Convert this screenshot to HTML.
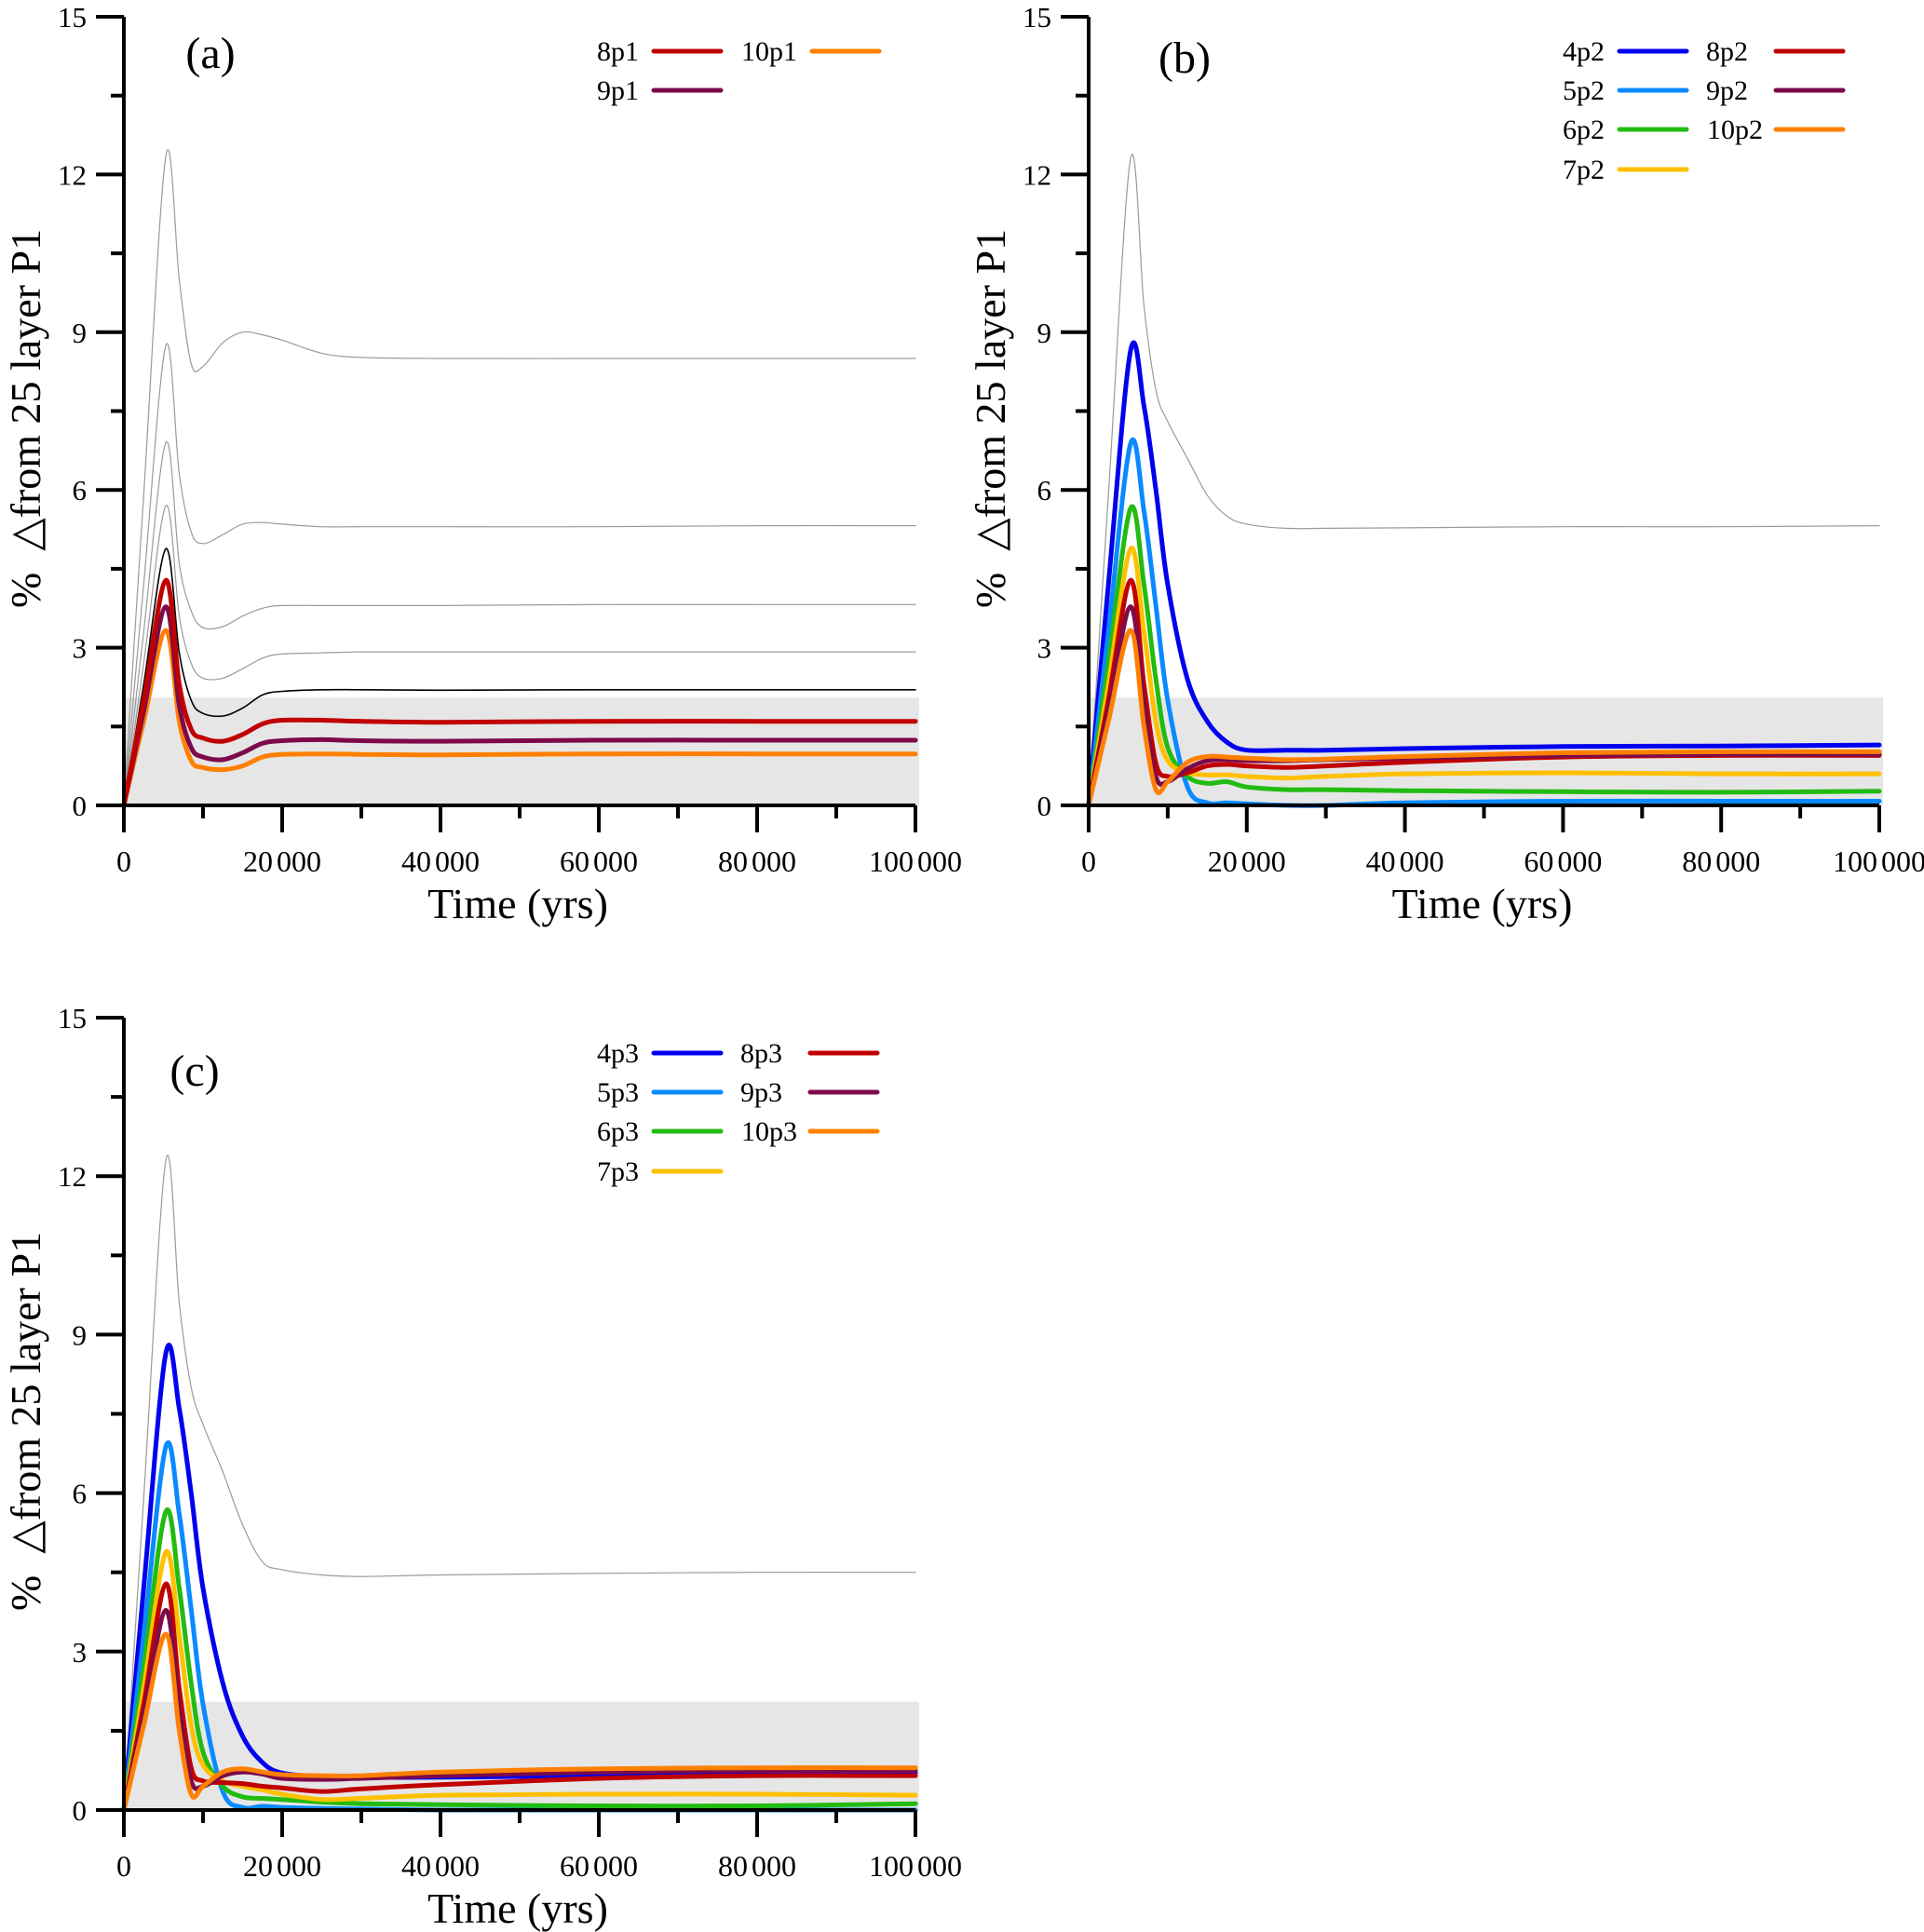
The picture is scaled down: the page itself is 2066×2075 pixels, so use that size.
<!DOCTYPE html>
<html><head><meta charset="utf-8">
<style>
html,body{margin:0;padding:0;background:#fff;}
svg{display:block;}
svg text{font-family:"Liberation Serif","DejaVu Serif",serif;white-space:pre;}
</style></head>
<body>
<svg id="fig" width="2066" height="2075" viewBox="0 0 2066 2075" xmlns="http://www.w3.org/2000/svg"></svg>
<script>
// ---- data ----
const timesA = [0, 2500, 5300, 7000, 8500, 10000, 12500, 15000, 17500, 20000, 25000, 30000, 40000, 60000, 80000, 100000];
const yTicks = [0, 3, 6, 9, 12, 15];
const xTicks = [0, 20000, 40000, 60000, 80000, 100000];
const xTickLabels = ["0", "20 000", "40 000", "60 000", "80 000", "100 000"];
const bandTop = 2.05;

const a_grey1 = [0, 5.9, 12.35, 10.0, 8.4, 8.35, 8.8, 9.0, 8.95, 8.85, 8.6, 8.52, 8.5, 8.5, 8.5, 8.5];
const a_grey2 = [0, 4.2, 8.75, 6.3, 5.2, 4.98, 5.15, 5.35, 5.38, 5.35, 5.3, 5.3, 5.3, 5.3, 5.32, 5.32];
const a_grey3 = [0, 3.3, 6.9, 4.6, 3.7, 3.38, 3.4, 3.6, 3.75, 3.8, 3.8, 3.8, 3.8, 3.82, 3.82, 3.82];
const a_grey4 = [0, 2.7, 5.7, 3.6, 2.7, 2.42, 2.42, 2.6, 2.8, 2.88, 2.9, 2.92, 2.92, 2.92, 2.92, 2.92];
const a_black = [0, 2.3, 4.88, 2.9, 2.0, 1.75, 1.7, 1.85, 2.1, 2.17, 2.2, 2.2, 2.19, 2.2, 2.2, 2.2];
const a_8p1 = [0, 2.0, 4.28, 2.3, 1.45, 1.28, 1.22, 1.35, 1.55, 1.62, 1.62, 1.6, 1.58, 1.6, 1.6, 1.6];
const a_9p1 = [0, 1.8, 3.78, 1.9, 1.1, 0.92, 0.87, 1.0, 1.18, 1.23, 1.25, 1.23, 1.22, 1.24, 1.24, 1.24];
const a_10p1 = [0, 1.6, 3.33, 1.6, 0.85, 0.72, 0.68, 0.75, 0.92, 0.97, 0.98, 0.97, 0.96, 0.98, 0.98, 0.98];

const b_grey = [0, 5.9, 12.3, 9.5, 7.9, 7.3, 6.6, 5.9, 5.5, 5.35, 5.27, 5.27, 5.28, 5.3, 5.3, 5.32];
const b_4p2 = [0, 4.2, 8.65, 7.6, 6.0, 4.2, 2.4, 1.6, 1.2, 1.05, 1.05, 1.05, 1.08, 1.12, 1.13, 1.15];
const b_5p2 = [0, 3.3, 6.88, 5.6, 3.8, 2.0, 0.35, 0.05, 0.05, 0.03, 0.0, 0.0, 0.05, 0.08, 0.08, 0.08];
const b_6p2 = [0, 2.7, 5.65, 4.2, 2.4, 1.1, 0.55, 0.42, 0.45, 0.35, 0.3, 0.3, 0.28, 0.26, 0.25, 0.27];
const b_7p2 = [0, 2.3, 4.88, 3.3, 1.6, 0.85, 0.62, 0.58, 0.58, 0.55, 0.52, 0.55, 0.6, 0.62, 0.6, 0.6];
const b_8p2 = [0, 2.0, 4.28, 2.3, 0.8, 0.55, 0.62, 0.75, 0.78, 0.75, 0.72, 0.75, 0.82, 0.92, 0.95, 0.95];
const b_9p2 = [0, 1.8, 3.78, 1.9, 0.55, 0.45, 0.7, 0.85, 0.87, 0.85, 0.85, 0.87, 0.9, 0.95, 0.97, 0.97];
const b_10p2 = [0, 1.6, 3.33, 1.5, 0.3, 0.45, 0.82, 0.93, 0.92, 0.9, 0.87, 0.88, 0.93, 1.0, 1.02, 1.02];

const c_grey = [0, 5.9, 12.3, 9.6, 8.0, 7.3, 6.4, 5.4, 4.7, 4.55, 4.45, 4.42, 4.45, 4.48, 4.5, 4.5];
const c_4p3 = [0, 4.2, 8.65, 7.6, 6.0, 4.2, 2.4, 1.4, 0.9, 0.7, 0.63, 0.62, 0.62, 0.65, 0.68, 0.7];
const c_5p3 = [0, 3.3, 6.88, 5.6, 3.8, 2.0, 0.35, 0.05, 0.07, 0.05, 0.03, 0.02, 0.0, 0.0, 0.0, 0.0];
const c_6p3 = [0, 2.7, 5.65, 4.2, 2.4, 1.1, 0.45, 0.25, 0.22, 0.2, 0.15, 0.12, 0.1, 0.08, 0.08, 0.12];
const c_7p3 = [0, 2.3, 4.88, 3.3, 1.6, 0.85, 0.55, 0.45, 0.38, 0.3, 0.2, 0.22, 0.28, 0.3, 0.3, 0.28];
const c_8p3 = [0, 2.0, 4.28, 2.3, 0.8, 0.55, 0.52, 0.5, 0.45, 0.42, 0.35, 0.4, 0.48, 0.6, 0.65, 0.65];
const c_9p3 = [0, 1.8, 3.78, 1.9, 0.55, 0.45, 0.65, 0.72, 0.68, 0.6, 0.58, 0.6, 0.65, 0.72, 0.75, 0.75];
const c_10p3 = [0, 1.6, 3.33, 1.5, 0.3, 0.45, 0.72, 0.78, 0.72, 0.67, 0.65, 0.65, 0.72, 0.78, 0.8, 0.8];

const COL = {c4:"#0000ee", c5:"#0a8aff", c6:"#22bb11", c7:"#ffc000", c8:"#c00000", c9:"#7d0a4a", c10:"#ff8000"};

const NS = "http://www.w3.org/2000/svg";
const svg = document.getElementById("fig");
const FF = '"Liberation Serif", "DejaVu Serif", serif';
function mk(tag, attrs, parent, text) {
  const e = document.createElementNS(NS, tag);
  for (const k in attrs) e.setAttribute(k, attrs[k]);
  if (tag === "text") e.setAttribute("font-family", FF);
  if (text !== undefined) e.textContent = text;
  (parent || svg).appendChild(e);
  return e;
}
function splinePath(pts) {
  let d = "M" + pts[0][0].toFixed(1) + "," + pts[0][1].toFixed(1);
  for (let i = 0; i < pts.length - 1; i++) {
    const p0 = pts[Math.max(0, i - 1)], p1 = pts[i], p2 = pts[i + 1], p3 = pts[Math.min(pts.length - 1, i + 2)];
    const t = 1 / 6;
    const c1x = p1[0] + (p2[0] - p0[0]) * t, c1y = p1[1] + (p2[1] - p0[1]) * t;
    const c2x = p2[0] - (p3[0] - p1[0]) * t, c2y = p2[1] - (p3[1] - p1[1]) * t;
    d += " C" + c1x.toFixed(1) + "," + c1y.toFixed(1) + " " + c2x.toFixed(1) + "," + c2y.toFixed(1) + " " + p2[0].toFixed(1) + "," + p2[1].toFixed(1);
  }
  return d;
}

function panel(cfg) {
  const g = mk("g", {});
  
  
  const X = v => cfg.x0 + (v / 100000) * (cfg.x1 - cfg.x0);
  const Y = v => cfg.y0 - (v / 15) * (cfg.y0 - cfg.y15);
  const band = mk("rect", {x: X(0), y: Y(bandTop), width: cfg.x1 + 4 - X(0), height: Y(0) - Y(bandTop), fill: "#e6e6e6"}, g);
  
  
  cfg.series.forEach(s => {
    const pts = timesA.map((t, i) => [X(t), Y(s.v[i])]);
    const p = mk("path", {d: splinePath(pts), fill: "none", stroke: s.c, "stroke-width": s.w, "stroke-linejoin": "round", "stroke-linecap": "round"}, g);
    
    
  });
  const ax = mk("g", {stroke: "#000", "stroke-width": 4, fill: "none"}, g);
  
  
  mk("line", {x1: cfg.x0, y1: cfg.y15, x2: cfg.x0, y2: cfg.y0 + 29}, ax);
  mk("line", {x1: cfg.x0 - 30, y1: cfg.y0, x2: cfg.x1, y2: cfg.y0}, ax);
  for (let v = 0; v <= 15; v += 1.5) {
    const major = Math.abs(v % 3) < 1e-6;
    mk("line", {x1: cfg.x0 - (major ? 30 : 14), y1: Y(v), x2: cfg.x0, y2: Y(v)}, ax);
  }
  for (let v = 10000; v <= 100000; v += 10000) {
    const major = v % 20000 === 0;
    mk("line", {x1: X(v), y1: cfg.y0, x2: X(v), y2: cfg.y0 + (major ? 29 : 14)}, ax);
  }
  yTicks.forEach(v => {
    const t = mk("text", {x: cfg.x0 - 40, y: Y(v) + 11, "font-size": 31, "text-anchor": "end"}, g, String(v));
    
    
  });
  xTicks.forEach((v, i) => {
    const t = mk("text", {x: X(v), y: cfg.y0 + 71, "font-size": 32, "text-anchor": "middle", "word-spacing": -4}, g, xTickLabels[i]);
    
    
  });
  const xt = mk("text", {x: (cfg.x0 + cfg.x1) / 2 - 2, y: cfg.y0 + 121, "font-size": 46, "text-anchor": "middle"}, g, "Time (yrs)");
  
  
  const cy = (cfg.y0 + cfg.y15) / 2 + 8;
  const yt = mk("text", {x: 0, y: 0, "font-size": 46, "text-anchor": "middle", transform: "translate(" + (cfg.x0 - 90) + "," + cy + ") rotate(-90)"}, g, "%  \u25B3from 25 layer P1");
  
  
  const pl = mk("text", {x: cfg.lx, y: cfg.ly, "font-size": 48, "text-anchor": "middle"}, g, cfg.label);
  
  
  cfg.legend.forEach(e => {
    const lg = mk("g", {}, g);
    
    
    mk("text", {x: e.tx, y: e.y + 10, "font-size": 30, "text-anchor": "end"}, lg, e.n);
    mk("line", {x1: e.lx, y1: e.y, x2: e.lx + 72, y2: e.y, stroke: e.c, "stroke-width": 5, "stroke-linecap": "round"}, lg);
  });
}

const gw = 1.2;
panel({name: "panel-a", label: "(a)", lx: 226, ly: 73, x0: 133, x1: 983, y0: 865, y15: 18,
  series: [
    {n: "grey-1", v: a_grey1, c: "#9a9a9a", w: gw},
    {n: "grey-2", v: a_grey2, c: "#9a9a9a", w: gw},
    {n: "grey-3", v: a_grey3, c: "#9a9a9a", w: gw},
    {n: "grey-4", v: a_grey4, c: "#9a9a9a", w: gw},
    {n: "black", v: a_black, c: "#000", w: 1.6},
    {n: "10p1", v: a_10p1, c: COL.c10, w: 5},
    {n: "9p1", v: a_9p1, c: COL.c9, w: 5},
    {n: "8p1", v: a_8p1, c: COL.c8, w: 5}],
  legend: [
    {n: "8p1", c: COL.c8, tx: 686, lx: 702, y: 55},
    {n: "9p1", c: COL.c9, tx: 686, lx: 702, y: 97},
    {n: "10p1", c: COL.c10, tx: 856, lx: 872, y: 55}]
});
panel({name: "panel-b", label: "(b)", lx: 1272, ly: 78, x0: 1169, x1: 2018, y0: 865, y15: 18,
  series: [
    {n: "grey", v: b_grey, c: "#9a9a9a", w: gw},
    {n: "4p2", v: b_4p2, c: COL.c4, w: 5},
    {n: "5p2", v: b_5p2, c: COL.c5, w: 5},
    {n: "6p2", v: b_6p2, c: COL.c6, w: 5},
    {n: "7p2", v: b_7p2, c: COL.c7, w: 5},
    {n: "8p2", v: b_8p2, c: COL.c8, w: 5},
    {n: "9p2", v: b_9p2, c: COL.c9, w: 5},
    {n: "10p2", v: b_10p2, c: COL.c10, w: 5}],
  legend: [
    {n: "4p2", c: COL.c4, tx: 1723, lx: 1739, y: 55},
    {n: "5p2", c: COL.c5, tx: 1723, lx: 1739, y: 97},
    {n: "6p2", c: COL.c6, tx: 1723, lx: 1739, y: 139},
    {n: "7p2", c: COL.c7, tx: 1723, lx: 1739, y: 182},
    {n: "8p2", c: COL.c8, tx: 1877, lx: 1907, y: 55},
    {n: "9p2", c: COL.c9, tx: 1877, lx: 1907, y: 97},
    {n: "10p2", c: COL.c10, tx: 1893, lx: 1907, y: 139}]
});
panel({name: "panel-c", label: "(c)", lx: 209, ly: 1166, x0: 133, x1: 983, y0: 1944, y15: 1093,
  series: [
    {n: "grey", v: c_grey, c: "#9a9a9a", w: gw},
    {n: "4p3", v: c_4p3, c: COL.c4, w: 5},
    {n: "5p3", v: c_5p3, c: COL.c5, w: 5},
    {n: "6p3", v: c_6p3, c: COL.c6, w: 5},
    {n: "7p3", v: c_7p3, c: COL.c7, w: 5},
    {n: "8p3", v: c_8p3, c: COL.c8, w: 5},
    {n: "9p3", v: c_9p3, c: COL.c9, w: 5},
    {n: "10p3", v: c_10p3, c: COL.c10, w: 5}],
  legend: [
    {n: "4p3", c: COL.c4, tx: 686, lx: 702, y: 1131},
    {n: "5p3", c: COL.c5, tx: 686, lx: 702, y: 1173},
    {n: "6p3", c: COL.c6, tx: 686, lx: 702, y: 1215},
    {n: "7p3", c: COL.c7, tx: 686, lx: 702, y: 1258},
    {n: "8p3", c: COL.c8, tx: 840, lx: 870, y: 1131},
    {n: "9p3", c: COL.c9, tx: 840, lx: 870, y: 1173},
    {n: "10p3", c: COL.c10, tx: 856, lx: 870, y: 1215}]
});
</script>
</body></html>
